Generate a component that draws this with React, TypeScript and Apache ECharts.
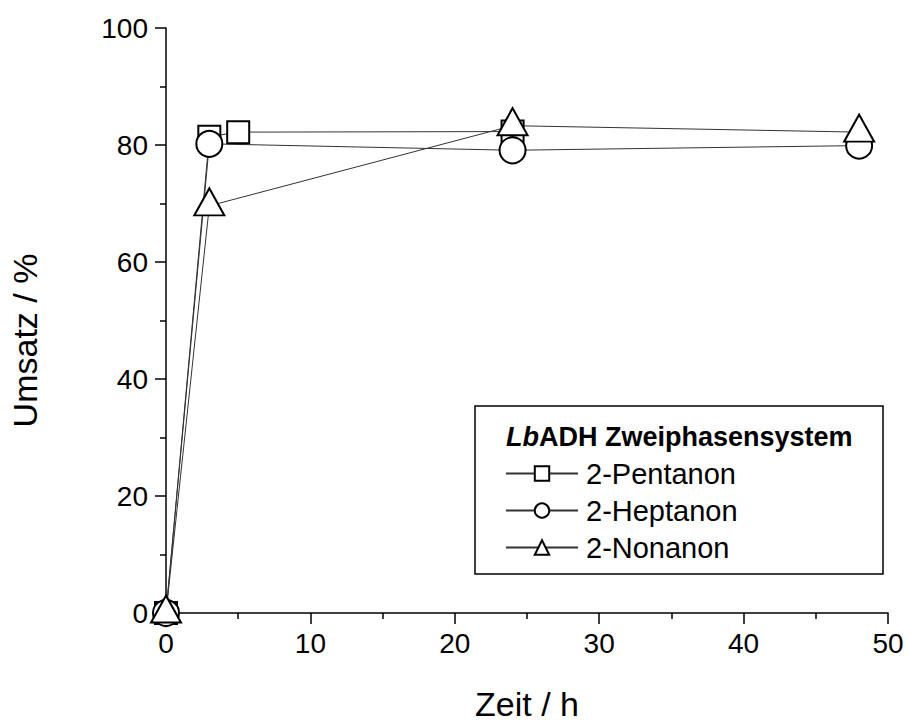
import React, { useEffect, useRef } from 'react';
import * as echarts from 'echarts';

const seriesNames = ['2-Pentanon', '2-Heptanon', '2-Nonanon'];
const pentanonTime = [0, 3, 5, 24];
const pentanonValues = [0, 81.4, 82.2, 82.3];
const heptanonTime = [0, 3, 24, 48];
const heptanonValues = [0, 80.2, 79.1, 79.9];
const nonanonTime = [0, 3, 24, 48];
const nonanonValues = [0, 69.6, 83.3, 82.2];
const legendTitleItalic = 'Lb';
const legendTitleRest = 'ADH Zweiphasensystem';

const FONT = '"Liberation Sans", Arial, sans-serif';

const pairs = (xs: number[], ys: number[]) => xs.map((x, i) => [x, ys[i]]);

export default function App() {
  const ref = useRef<HTMLDivElement>(null);
  useEffect(() => {
    if (!ref.current) return;
    const chart = echarts.init(ref.current, undefined, { renderer: 'svg' });
    const lineStyle = { color: '#333', width: 1 };
    const itemStyle = { color: '#fff', borderColor: '#000', borderWidth: 2 };
    const mk = (name: string, data: number[][], symbol: string, size: any, offset?: any) => ({
      name,
      type: 'line',
      data,
      symbol,
      symbolSize: size,
      symbolOffset: offset || [0, 0],
      showAllSymbol: true,
      lineStyle,
      itemStyle,
      emphasis: { disabled: true },
    });
    chart.setOption({
      animation: false,
      backgroundColor: '#fff',
      textStyle: { fontFamily: FONT },
      grid: { left: 166, top: 28, width: 722, height: 585, containLabel: false, outerBoundsMode: 'none' },
      xAxis: {
        type: 'value',
        min: 0,
        max: 50,
        interval: 10,
        name: 'Zeit / h',
        nameLocation: 'middle',
        nameGap: 74,
        nameTextStyle: { fontSize: 34, color: '#000', fontFamily: FONT },
        axisLine: { show: true, lineStyle: { color: '#000', width: 1.5 } },
        axisTick: { show: true, inside: false, length: 11, lineStyle: { color: '#000', width: 1.5 } },
        minorTick: { show: true, splitNumber: 2, length: 6, lineStyle: { color: '#000', width: 1.5 } },
        splitLine: { show: false },
        axisLabel: { fontSize: 28, color: '#000', margin: 16, fontFamily: FONT },
      },
      yAxis: {
        type: 'value',
        min: 0,
        max: 100,
        interval: 20,
        name: 'Umsatz / %',
        nameLocation: 'middle',
        nameGap: 124,
        nameTextStyle: { fontSize: 34, color: '#000', fontFamily: FONT, padding: [0, 40, 0, 0] },
        axisLine: { show: true, lineStyle: { color: '#000', width: 1.5 } },
        axisTick: { show: true, inside: false, length: 11, lineStyle: { color: '#000', width: 1.5 } },
        minorTick: { show: true, splitNumber: 2, length: 6, lineStyle: { color: '#000', width: 1.5 } },
        splitLine: { show: false },
        axisLabel: { fontSize: 28, color: '#000', margin: 18, fontFamily: FONT },
      },
      legend: {
        data: seriesNames,
        orient: 'vertical',
        left: 505,
        top: 459,
        padding: 0,
        itemWidth: 72,
        itemHeight: 18,
        itemGap: 8,
        selectedMode: false,
        textStyle: { fontSize: 29, color: '#000', fontFamily: FONT, padding: [0, 0, 0, 3] },
      },
      graphic: [
        {
          type: 'rect',
          shape: { x: 475, y: 406, width: 408, height: 168 },
          style: { fill: 'none', stroke: '#000', lineWidth: 1.5 },
        },
        {
          type: 'text',
          x: 506,
          y: 437,
          style: {
            text: `{i|${legendTitleItalic}}{b|${legendTitleRest}}`,
            verticalAlign: 'middle',
            rich: {
              i: { fontSize: 27, fontWeight: 'bold', fontStyle: 'italic', fontFamily: FONT, fill: '#000' },
              b: { fontSize: 27, fontWeight: 'bold', fontFamily: FONT, fill: '#000' },
            },
          },
        },
      ],
      series: [
        mk(seriesNames[0], pairs(pentanonTime, pentanonValues), 'rect', 22),
        mk(seriesNames[1], pairs(heptanonTime, heptanonValues), 'circle', 26),
        mk(seriesNames[2], pairs(nonanonTime, nonanonValues), 'triangle', [30, 27], [0, -4]),
      ],
    });
    return () => chart.dispose();
  }, []);
  return <div ref={ref} style={{ position: 'absolute', left: 0, top: 0, width: 910, height: 723 }} />;
}
